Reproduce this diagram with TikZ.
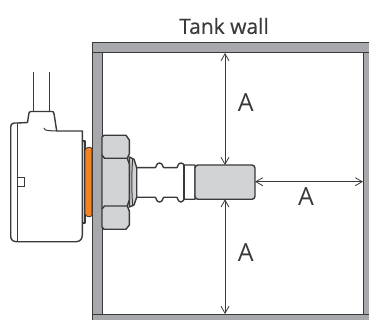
\documentclass[tikz,border=0pt]{standalone}
\usepackage{fontspec}
\usetikzlibrary{arrows.meta}
\setmainfont{Open Sans}
\definecolor{wallgray}{HTML}{A7A9AC}
\definecolor{nutgray}{HTML}{D1D3D4}
\definecolor{linedark}{HTML}{3A3A3C}
\definecolor{sealorange}{HTML}{F58220}
\begin{document}
\begin{tikzpicture}[x=1pt,y=-1pt,
		outline/.style={draw=linedark,line width=1.4pt,line join=round},
		thinline/.style={draw=linedark,line width=1pt},
		wall/.style={outline,fill=wallgray,line width=1pt},
		measure/.style={draw=linedark,line width=0.8pt,{Straight Barb[length=7pt,width=8pt]}-{Straight Barb[length=7pt,width=8pt]}},
		dimlabel/.style={text=linedark,font=\fontsize{25}{25}\selectfont,inner sep=0pt},
		titlelabel/.style={text=linedark,font=\fontsize{21}{21}\selectfont\addfontfeatures{FakeBold=0.4},inner sep=0pt}]
	\useasboundingbox (0,0) rectangle (369,320);
	% tank wall
	\path[wall] (92,43) rectangle (102,325);
	\path[wall] (363,52) rectangle (375,314);
	\path[wall] (92,43) rectangle (375,53);
	\path[wall] (92,314) rectangle (375,325);
	% housing
	\draw[thinline] (33.7,71.7) -- (33.7,111) (49,71.7) -- (49,111);
	\path[outline,fill=white] (17.7,123) -- (14,123) .. controls (11.5,123) and (10.7,125) .. (10.7,127) -- (10.7,236) .. controls (10.7,240) and (13,241.7) .. (17,241.7) -- (76,241.7) .. controls (80,241.7) and (82.3,239) .. (82.3,235) -- (82.3,131) -- (56.7,131) -- (54,113.5) .. controls (53.8,112) and (53,111.5) .. (52,111.5) -- (31,111.5) .. controls (29.5,111.5) and (29,112.5) .. (28.8,114) -- (27.5,122.5) -- cycle;
	\draw[outline] (17.7,123) -- (17.7,241.7);
	\draw[thinline] (44,128) .. controls (45,131) and (47,130.5) .. (56.7,131);
	\draw[thinline] (17.7,177.3) -- (24.3,177.3) -- (24.3,187) -- (17.7,187);
	\path[outline,fill=wallgray!60] (82.3,141) -- (85,141) -- (85,223) -- (82.3,223) -- cycle;
	\path[draw=linedark,line width=0.8pt,fill=sealorange,rounded corners=2pt] (91.7,147) -- (85,148) -- (85,216) -- (91.7,217) -- cycle;
	% nut and washer
	\path[outline,fill=nutgray] (129.3,157) -- (134,159.3) -- (136.7,167.7) -- (136.7,197.3) -- (134,205) -- (129.3,207) -- cycle;
	\draw[thinline] (132.7,158) .. controls (131.5,175) and (131.5,190) .. (132.7,206);
	\path[outline,fill=nutgray] (102,137) -- (104,135.3) -- (126,135.3) -- (129.3,140) -- (129.3,154) -- (127.3,158.3) -- (129.3,164) -- (129.3,200) -- (127.3,206) -- (129.3,211) -- (129.3,225) -- (126,229.3) -- (104,229.3) -- (102,227) -- cycle;
	\draw[outline] (102,155) -- (104.5,158.3) -- (127.3,158.3) (102,209) -- (104.5,206) -- (127.3,206);
	% probe
	\path[outline,fill=white] (136.7,167.7) -- (155,167.7) .. controls (156.5,167.7) and (156,163) .. (159.5,163) .. controls (163,163) and (162.5,167.7) .. (164,167.7) -- (176.5,167.7) .. controls (178,167.7) and (177.5,163) .. (181,163) .. controls (183.5,163) and (183.5,165) .. (184,165) -- (195,165) -- (195,199.3) -- (184,199.3) .. controls (183.5,199.3) and (183.5,202) .. (181,202) .. controls (177.5,202) and (178,197.3) .. (176.5,197.3) -- (164,197.3) .. controls (162.5,197.3) and (163,202) .. (159.5,202) .. controls (156,202) and (156.5,197.3) .. (155,197.3) -- (136.7,197.3) -- cycle;
	\path[outline,fill=nutgray,rounded corners=3pt] (195,165) -- (255,165) -- (255,199.3) -- (195,199.3) -- cycle;
	\draw[outline] (184,165) -- (184,199.3);
	% dimensions
	\coordinate (wall top) at (225,53);
	\coordinate (wall bottom) at (225,314);
	\coordinate (wall right) at (363,181.7);
	\coordinate (tip top) at (225,165);
	\coordinate (tip bottom) at (225,199.3);
	\coordinate (tip end) at (255,181.7);
	\draw[measure] (wall top) -- (tip top);
	\draw[measure] (tip bottom) -- (wall bottom);
	\draw[measure] (tip end) -- (wall right);
	\node[titlelabel] (title) at (224,26) {Tank wall};
	\node[dimlabel] (a top) at (245.7,103) {A};
	\node[dimlabel] (a right) at (306,197) {A};
	\node[dimlabel] (a bottom) at (245.7,253) {A};
\end{tikzpicture}
\end{document}
